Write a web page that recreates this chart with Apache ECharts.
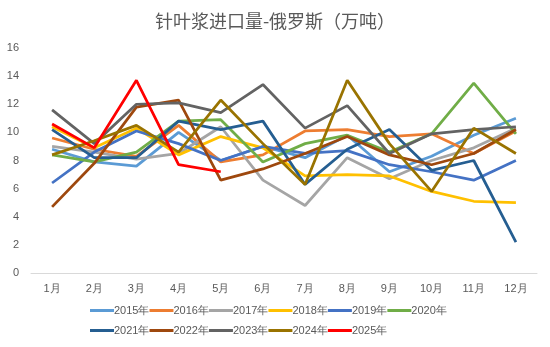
<!DOCTYPE html>
<html><head><meta charset="utf-8">
<script src="https://cdn.jsdelivr.net/npm/echarts@6/dist/echarts.min.js"></script>
<style>html,body{margin:0;padding:0;background:#fff}#c{width:550px;height:347px}</style>
</head><body><div id="c"></div>
<script>
var categories = ['1月','2月','3月','4月','5月','6月','7月','8月','9月','10月','11月','12月'];
var seriesNames = ['2015年','2016年','2017年','2018年','2019年','2020年','2021年','2022年','2023年','2024年','2025年'];
var colors = ['#5B9BD5','#ED7D31','#A5A5A5','#FFC000','#4472C4','#70AD47','#255E91','#9E480E','#636363','#997300','#FF0000'];
var y2015 = [8.8, 7.9, 7.6, 10.0, 8.0, 9.0, 8.2, 9.8, 7.2, 8.3, 9.8, 11.0];
var y2016 = [9.6, 8.8, 8.3, 10.5, 7.9, 8.4, 10.1, 10.2, 9.7, 9.9, 8.5, 10.1];
var y2017 = [9.0, 8.6, 8.1, 8.5, 10.4, 6.6, 4.8, 8.2, 6.7, 8.0, 8.9, 10.3];
var y2018 = [10.4, 8.9, 10.3, 8.4, 9.7, 8.9, 6.9, 7.0, 6.9, 5.8, 5.1, 5.0];
var y2019 = [6.4, 8.6, 10.1, 9.2, 8.0, 9.0, 8.5, 8.7, 7.7, 7.2, 6.6, 8.0];
var y2020 = [8.4, 7.9, 8.6, 10.8, 10.9, 7.9, 9.2, 9.8, 8.6, 9.9, 13.5, 9.9];
var y2021 = [10.2, 8.2, 8.2, 10.8, 10.2, 10.8, 6.3, 8.8, 10.2, 7.3, 8.0, 2.2];
var y2022 = [4.7, 7.8, 11.8, 12.3, 6.6, 7.4, 8.5, 9.7, 8.4, 7.7, 8.5, 10.2];
var y2023 = [11.6, 9.2, 12.0, 12.1, 11.4, 13.4, 10.3, 11.9, 8.5, 9.9, 10.2, 10.4];
var y2024 = [8.4, 9.4, 10.5, 8.6, 12.3, 9.2, 6.3, 13.7, 9.2, 5.8, 10.3, 8.5];
var y2025 = [10.6, 8.9, 13.7, 7.7, 7.2];
var allData = [y2015,y2016,y2017,y2018,y2019,y2020,y2021,y2022,y2023,y2024,y2025];

var chart = echarts.init(document.getElementById('c'));
var series = seriesNames.map(function(n,i){
  return {name:n,type:'line',data:allData[i],symbol:'none',smooth:false,
    lineStyle:{width:2.75,color:colors[i]},itemStyle:{color:colors[i]}};
});
var legendCommon = {left:90,padding:0,itemWidth:24,itemHeight:3,itemGap:0,icon:'rect',
  textStyle:{fontSize:11,color:'#595959',padding:[0,0,0,-5]}};
chart.setOption({
  animation:false,
  title:{text:'针叶浆进口量-俄罗斯（万吨）',left:'center',top:7,
    textStyle:{fontSize:18,fontWeight:'normal',color:'#595959',fontFamily:'Noto Sans CJK SC'}},
  grid:{left:31,right:13,top:48,bottom:74},
  legend:[
    Object.assign({data:seriesNames.slice(0,6),top:305}, legendCommon),
    Object.assign({data:seriesNames.slice(6),top:325}, legendCommon)
  ],
  xAxis:{type:'category',data:categories,boundaryGap:true,
    axisLine:{lineStyle:{color:'#D9D9D9'}},axisTick:{show:false},
    axisLabel:{color:'#595959',fontSize:11,margin:10}},
  yAxis:{type:'value',min:0,max:16,interval:2,
    axisLine:{show:false},axisTick:{show:false},splitLine:{show:false},
    axisLabel:{color:'#595959',fontSize:11,margin:12}},
  series:series
});
</script></body></html>
